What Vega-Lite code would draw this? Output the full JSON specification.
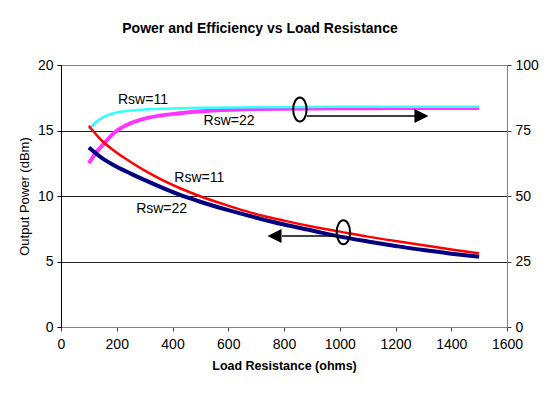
{
  "$schema": "https://vega.github.io/schema/vega-lite/v6.json",
  "width": 446,
  "height": 262,
  "autosize": {"type": "none"},
  "padding": {"left": 61, "top": 65, "right": 43, "bottom": 68},
  "background": "white",
  "title": {
    "text": "Power and Efficiency vs Load Resistance",
    "font": "Liberation Sans",
    "fontSize": 14,
    "fontWeight": "bold",
    "color": "black",
    "anchor": "middle",
    "frame": "group",
    "dx": -24,
    "offset": 22
  },
  "config": {
    "font": "Liberation Sans",
    "view": {"stroke": "#808080", "strokeWidth": 1},
    "axis": {
      "labelFont": "Liberation Sans",
      "labelFontSize": 14,
      "labelColor": "black",
      "titleFont": "Liberation Sans",
      "titleColor": "black",
      "tickSize": 4,
      "labelPadding": 4
    }
  },
  "datasets": {
    "power": [
      {"series": "Rsw=11", "R": 100, "P": 15.35},
      {"series": "Rsw=11", "R": 150, "P": 14.16},
      {"series": "Rsw=11", "R": 188, "P": 13.5},
      {"series": "Rsw=11", "R": 250, "P": 12.6},
      {"series": "Rsw=11", "R": 307, "P": 11.86},
      {"series": "Rsw=11", "R": 427, "P": 10.59},
      {"series": "Rsw=11", "R": 499, "P": 9.98},
      {"series": "Rsw=11", "R": 600, "P": 9.26},
      {"series": "Rsw=11", "R": 678, "P": 8.75},
      {"series": "Rsw=11", "R": 800, "P": 8.12},
      {"series": "Rsw=11", "R": 900, "P": 7.67},
      {"series": "Rsw=11", "R": 1001, "P": 7.28},
      {"series": "Rsw=11", "R": 1100, "P": 6.9},
      {"series": "Rsw=11", "R": 1200, "P": 6.56},
      {"series": "Rsw=11", "R": 1300, "P": 6.24},
      {"series": "Rsw=11", "R": 1400, "P": 5.92},
      {"series": "Rsw=11", "R": 1500, "P": 5.62},
      {"series": "Rsw=22", "R": 100, "P": 13.7},
      {"series": "Rsw=22", "R": 150, "P": 12.85},
      {"series": "Rsw=22", "R": 188, "P": 12.37},
      {"series": "Rsw=22", "R": 250, "P": 11.71},
      {"series": "Rsw=22", "R": 307, "P": 11.15},
      {"series": "Rsw=22", "R": 427, "P": 10.08},
      {"series": "Rsw=22", "R": 499, "P": 9.56},
      {"series": "Rsw=22", "R": 600, "P": 8.92},
      {"series": "Rsw=22", "R": 678, "P": 8.47},
      {"series": "Rsw=22", "R": 800, "P": 7.82},
      {"series": "Rsw=22", "R": 900, "P": 7.37},
      {"series": "Rsw=22", "R": 1001, "P": 6.9},
      {"series": "Rsw=22", "R": 1100, "P": 6.53},
      {"series": "Rsw=22", "R": 1200, "P": 6.19},
      {"series": "Rsw=22", "R": 1300, "P": 5.87},
      {"series": "Rsw=22", "R": 1400, "P": 5.6},
      {"series": "Rsw=22", "R": 1500, "P": 5.36}
    ],
    "eff": [
      {"series": "Rsw=11", "R": 100, "E": 75.5},
      {"series": "Rsw=11", "R": 128, "E": 78.4},
      {"series": "Rsw=11", "R": 150, "E": 80.0},
      {"series": "Rsw=11", "R": 188, "E": 81.6},
      {"series": "Rsw=11", "R": 248, "E": 82.6},
      {"series": "Rsw=11", "R": 300, "E": 83.0},
      {"series": "Rsw=11", "R": 367, "E": 83.3},
      {"series": "Rsw=11", "R": 545, "E": 83.7},
      {"series": "Rsw=11", "R": 700, "E": 83.9},
      {"series": "Rsw=11", "R": 900, "E": 84.0},
      {"series": "Rsw=11", "R": 1100, "E": 84.1},
      {"series": "Rsw=11", "R": 1300, "E": 84.1},
      {"series": "Rsw=11", "R": 1500, "E": 84.1},
      {"series": "Rsw=22", "R": 100, "E": 62.5},
      {"series": "Rsw=22", "R": 128, "E": 66.9},
      {"series": "Rsw=22", "R": 150, "E": 69.5},
      {"series": "Rsw=22", "R": 188, "E": 73.9},
      {"series": "Rsw=22", "R": 248, "E": 77.7},
      {"series": "Rsw=22", "R": 307, "E": 79.7},
      {"series": "Rsw=22", "R": 427, "E": 81.6},
      {"series": "Rsw=22", "R": 545, "E": 82.6},
      {"series": "Rsw=22", "R": 700, "E": 83.2},
      {"series": "Rsw=22", "R": 900, "E": 83.4},
      {"series": "Rsw=22", "R": 1100, "E": 83.5},
      {"series": "Rsw=22", "R": 1300, "E": 83.6},
      {"series": "Rsw=22", "R": 1500, "E": 83.6}
    ],
    "labels": [
      {"text": "Rsw=11", "R": 294, "P": 17.33},
      {"text": "Rsw=22", "R": 603, "P": 15.7},
      {"text": "Rsw=11", "R": 496, "P": 11.35},
      {"text": "Rsw=22", "R": 361, "P": 8.99}
    ],
    "ellipses": [
      {"R": 857, "P": 16.6},
      {"R": 1013, "P": 7.23}
    ],
    "arrows": [
      {"R": 882, "R2": 1275, "P": 16.1},
      {"R": 793, "R2": 990, "P": 6.95}
    ],
    "heads": [
      {"dir": "right", "R": 1293, "P": 16.1},
      {"dir": "left", "R": 766, "P": 6.95}
    ]
  },
  "layer": [
    {
      "data": {"name": "eff"},
      "encoding": {
        "x": {
          "field": "R", "type": "quantitative",
          "scale": {"domain": [0, 1600], "nice": false},
          "axis": {
            "values": [0, 200, 400, 600, 800, 1000, 1200, 1400, 1600],
            "format": "d",
            "title": "Load Resistance (ohms)",
            "titleFontSize": 12.5,
            "titleFontWeight": "bold",
            "titleColor": "black",
            "titlePadding": 8,
            "labelPadding": 6,
            "domainColor": "#808080",
            "tickColor": "#404040",
            "grid": false,
            "labelFlush": false
          }
        },
        "y": {
          "field": "E", "type": "quantitative",
          "scale": {"domain": [0, 100], "nice": false},
          "axis": {
            "orient": "right",
            "values": [0, 25, 50, 75, 100],
            "title": null,
            "grid": false,
            "domainColor": "#808080",
            "tickColor": "#404040",
            "labelFlush": false
          }
        }
      },
      "layer": [
        {
          "transform": [{"filter": "datum.series === 'Rsw=22'"}],
          "mark": {"type": "line", "interpolate": "monotone", "color": "#FF33FF", "strokeWidth": 4}
        },
        {
          "transform": [{"filter": "datum.series === 'Rsw=11'"}],
          "mark": {"type": "line", "interpolate": "monotone", "color": "#33FFFF", "strokeWidth": 2.5}
        }
      ]
    },
    {
      "encoding": {
        "x": {
          "field": "R", "type": "quantitative",
          "scale": {"domain": [0, 1600], "nice": false},
          "axis": {
            "values": [0, 200, 400, 600, 800, 1000, 1200, 1400, 1600],
            "format": "d",
            "title": "Load Resistance (ohms)",
            "titleFontSize": 12.5,
            "titleFontWeight": "bold",
            "titleColor": "black",
            "titlePadding": 8,
            "labelPadding": 6,
            "domainColor": "#808080",
            "tickColor": "#404040",
            "grid": false,
            "labelFlush": false
          }
        },
        "y": {
          "field": "P", "type": "quantitative",
          "scale": {"domain": [0, 20], "nice": false},
          "axis": {
            "orient": "left",
            "values": [0, 5, 10, 15, 20],
            "title": "Output Power (dBm)",
            "titleFontSize": 13,
            "titleFontWeight": "normal",
            "titleColor": "black",
            "titlePadding": 6,
            "grid": true,
            "gridColor": {"condition": {"test": "datum.value === 20 || datum.value === 0", "value": "#808080"}, "value": "#222222"},
            "gridWidth": 1.2,
            "domainColor": "#000000",
            "tickColor": "#000000",
            "labelFlush": false
          }
        }
      },
      "layer": [
        {
          "data": {"name": "power"},
          "transform": [{"filter": "datum.series === 'Rsw=22'"}],
          "mark": {"type": "line", "interpolate": "monotone", "color": "#000080", "strokeWidth": 4}
        },
        {
          "data": {"name": "power"},
          "transform": [{"filter": "datum.series === 'Rsw=11'"}],
          "mark": {"type": "line", "interpolate": "monotone", "color": "#FF0000", "strokeWidth": 2.5}
        },
        {
          "data": {"name": "labels"},
          "mark": {"type": "text", "font": "Liberation Sans", "fontSize": 14, "color": "black", "baseline": "middle", "align": "center"},
          "encoding": {"text": {"field": "text"}}
        },
        {
          "data": {"name": "arrows"},
          "mark": {"type": "rule", "color": "black", "strokeWidth": 1.5},
          "encoding": {"x2": {"field": "R2"}}
        },
        {
          "data": {"name": "heads"},
          "mark": {"type": "point", "filled": true, "color": "black", "opacity": 1, "size": 196},
          "encoding": {
            "shape": {
              "field": "dir", "type": "nominal",
              "scale": {"domain": ["right", "left"], "range": ["M-1,-1L1,0L-1,1Z", "M1,-1L-1,0L1,1Z"]},
              "legend": null
            }
          }
        },
        {
          "data": {"name": "ellipses"},
          "mark": {
            "type": "point", "filled": false, "color": "black", "strokeWidth": 2, "opacity": 1, "size": 576,
            "shape": "M0,-1C0.309,-1,0.56,-0.552,0.56,0C0.56,0.552,0.309,1,0,1C-0.309,1,-0.56,0.552,-0.56,0C-0.56,-0.552,-0.309,-1,0,-1Z"
          }
        }
      ]
    }
  ],
  "resolve": {"scale": {"y": "independent"}}
}
